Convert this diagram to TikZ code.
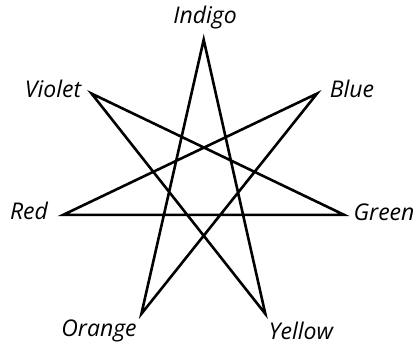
\documentclass[tikz,border=0pt]{standalone}
\usepackage{fontspec}
\setmainfont{Open Sans}
\usepackage{tikz}
\usetikzlibrary{calc}

\tikzset{
  colourlab/.style={font=\itshape\fontsize{23}{25}\selectfont, inner sep=0pt},
  starline/.style={line width=2.6pt, line join=miter}
}

\begin{document}
\begin{tikzpicture}[x=1pt,y=-1pt]
    \useasboundingbox (0,0) rectangle (419,345);
    % star points
    \coordinate (ind) at (203.7,39.7);
    \coordinate (blu) at (317,93.6);
    \coordinate (gre) at (344,214.8);
    \coordinate (yel) at (265.3,313.8);
    \coordinate (ora) at (141.4,313.8);
    \coordinate (red) at (63.3,214.8);
    \coordinate (vio) at (91.6,93.6);

    % the heptagram
    \draw[starline] (ind)--(yel)--(vio)--(gre)--(red)--(blu)--(ora)--cycle;

    % labels
    \foreach \p/\lab/\x/\y in {ind/Indigo/205/18, blu/Blue/352/89,
                               gre/Green/384/212, yel/Yellow/301/331,
                               ora/Orange/99/331, red/Red/29/211,
                               vio/Violet/53/89}{
        \node[colourlab] (\p-lab) at (\x,\y) {\lab};
    }
\end{tikzpicture}
\end{document}
